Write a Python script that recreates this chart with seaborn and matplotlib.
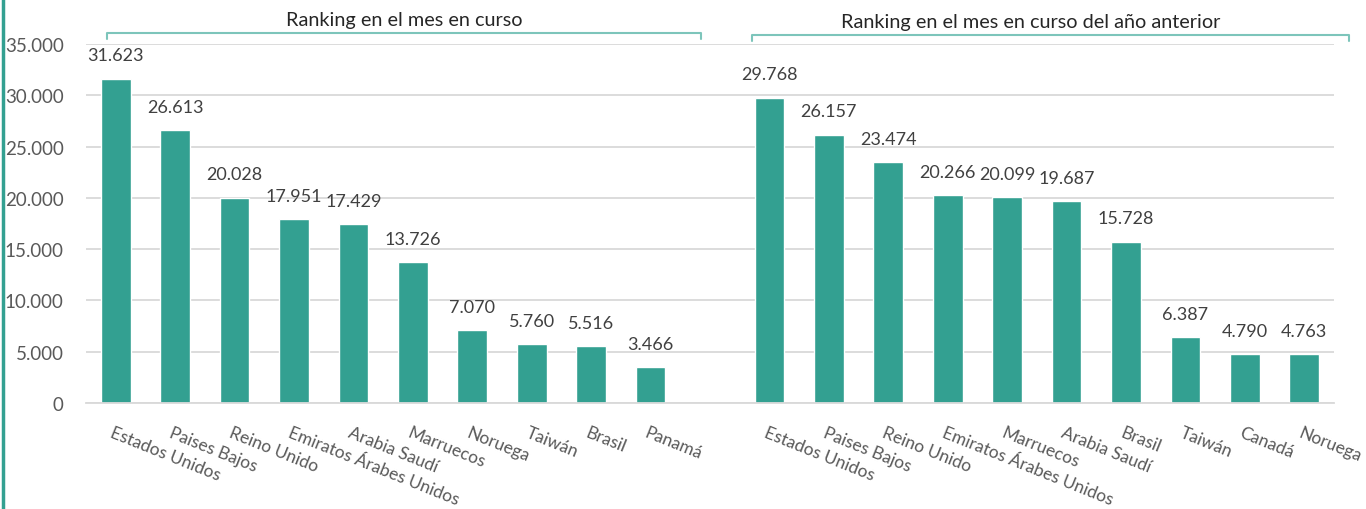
import matplotlib
matplotlib.use("Agg")
import matplotlib.pyplot as plt
from matplotlib.lines import Line2D
import matplotlib.transforms as mtransforms
import seaborn as sns
import pandas as pd

# ---------------- data ----------------
current_countries = ["Estados Unidos", "Paises Bajos", "Reino Unido", "Emiratos Árabes Unidos",
                     "Arabia Saudí", "Marruecos", "Noruega", "Taiwán", "Brasil", "Panamá"]
current_values = [31623, 26613, 20028, 17951, 17429, 13726, 7070, 5760, 5516, 3466]

prev_countries = ["Estados Unidos", "Paises Bajos", "Reino Unido", "Emiratos Árabes Unidos",
                  "Marruecos", "Arabia Saudí", "Brasil", "Taiwán", "Canadá", "Noruega"]
prev_values = [29768, 26157, 23474, 20266, 20099, 19687, 15728, 6387, 4790, 4763]

group_titles = ["Ranking en el mes en curso", "Ranking en el mes en curso del año anterior"]
y_ticks = [0, 5000, 10000, 15000, 20000, 25000, 30000, 35000]

# ---------------- style ----------------
BAR = "#33A091"
BRACKET = "#7DC5BB"
GRID = "#D9D9D9"
TXT = "#595959"
LBL = "#404040"

sns.set_theme(style="white")
plt.rcParams["font.family"] = ["Lato", "DejaVu Sans"]


def fmt(v):
    return f"{v:,}".replace(",", ".")


# slots: 10 current, 1 empty, 10 previous
labels = current_countries + [""] + prev_countries
slots = list(range(len(labels)))
df = pd.DataFrame({
    "slot": list(range(0, 10)) + list(range(11, 21)),
    "value": current_values + prev_values,
})

fig = plt.figure(figsize=(13.66, 5.10), dpi=100)
ax = fig.add_axes([86 / 1366, 1 - 404 / 510, (1334 - 86) / 1366, (404 - 45) / 510])

sns.barplot(data=df, x="slot", y="value", order=slots, color=BAR, width=0.5,
            saturation=1, ax=ax, zorder=3)

ax.set_xlim(-0.5, 20.5)
ax.set_ylim(0, 35000)
ax.set_yticks(y_ticks)
ax.set_yticklabels([fmt(t) for t in y_ticks], fontsize=13.5, color=TXT)
ax.yaxis.grid(True, color=GRID, linewidth=1.3, zorder=0)
ax.tick_params(axis="y", length=0, pad=16)
for s in ["top", "right", "left"]:
    ax.spines[s].set_visible(False)
ax.spines["bottom"].set_color(GRID)
ax.spines["bottom"].set_linewidth(1.3)
ax.spines["bottom"].set_zorder(4)
ax.set_xlabel("")
ax.set_ylabel("")

# category boundaries as tick marks, labels at centers
ax.set_xticks([i - 0.5 for i in range(22)], minor=False)
ax.set_xticklabels([])
ax.tick_params(axis="x", which="major", length=6, width=1.3, color=GRID, direction="out")
ax.set_xticks(slots, minor=True)
ax.set_xticklabels(labels, minor=True, rotation=-22, ha="left", va="top",
                   rotation_mode="anchor", fontsize=12.5, color=TXT)
ax.tick_params(axis="x", which="minor", length=0, pad=15)
offset = mtransforms.ScaledTranslation(-2 / 100, 0, fig.dpi_scale_trans)
for t in ax.get_xticklabels(minor=True):
    t.set_transform(t.get_transform() + offset)

# value labels
for cont in ax.containers:
    ax.bar_label(cont, labels=[fmt(int(v)) for v in cont.datavalues], padding=11,
                 fontsize=13, color=LBL)

# brackets and group titles
trans = mtransforms.blended_transform_factory(ax.transData, ax.transAxes)
brackets = [(-0.15, 9.85, 1.031), (10.7, 20.75, 1.025)]
title_pos = [(4.85, 1.069), (15.4, 1.064)]
for (x0, x1, yb), title, (tx, ty) in zip(brackets, group_titles, title_pos):
    ax.add_line(Line2D([x0, x0, x1, x1], [yb - 0.017, yb, yb, yb - 0.017], transform=trans,
                       color=BRACKET, linewidth=1.5, clip_on=False))
    ax.text(tx, ty, title, transform=trans, ha="center", va="center",
            fontsize=14.3, color="#262626")

# left border line
fig.add_artist(Line2D([3 / 1366, 3 / 1366], [0, 1], transform=fig.transFigure,
                      color=BAR, linewidth=2.5))

fig.savefig("out.png", dpi=100)
